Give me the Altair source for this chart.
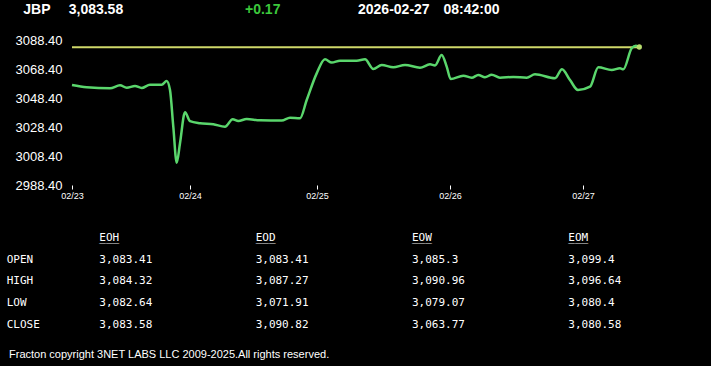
import altair as alt
import pandas as pd

# ---- header values ----
symbol = "JBP"
last_price = "3,083.58"
change = "+0.17"
quote_date = "2026-02-27"
quote_time = "08:42:00"
footer = "Fracton copyright 3NET LABS LLC 2009-2025.All rights reserved."

# ---- price series (bar index along the session axis, price) ----
bars = [0, 14.7, 38, 48, 54.7, 63, 69.7, 78, 89.7, 94.7, 98, 101.3, 104.7, 108, 113,
        118, 128, 141.3, 153, 160.7, 166.3, 174.7, 188, 209.7, 218, 228, 234.7, 244.7,
        253, 259.7, 268, 284.7, 293, 301.3, 309.7, 321.3, 333, 348, 358, 363, 369.7,
        374.7, 378.7, 391.3, 399.7, 406.3, 413, 419.7, 428, 441.3, 454.7, 463, 483,
        490, 498, 506, 518, 526.3, 539.7, 548, 551.3, 559.7, 564, 567.3]
prices = [3057.4, 3055.8, 3055.1, 3057.2, 3055.5, 3056.7, 3055.3, 3057.6, 3057.6,
          3060.1, 3053.9, 3028.6, 3003.8, 3017.2, 3038.5, 3032.5, 3031.0, 3030.3,
          3028.6, 3033.7, 3032.5, 3033.9, 3033.0, 3032.8, 3034.8, 3034.4, 3047.0,
          3065.4, 3075.1, 3072.8, 3074.1, 3074.1, 3075.1, 3068.4, 3071.2, 3069.6,
          3071.2, 3069.3, 3071.6, 3070.9, 3078.1, 3070.0, 3061.5, 3063.8, 3062.4,
          3064.3, 3062.7, 3064.5, 3062.4, 3062.9, 3062.4, 3064.7, 3062.0, 3068.2,
          3060.8, 3053.9, 3056.2, 3069.6, 3067.7, 3068.9, 3068.2, 3082.7, 3084.5,
          3083.58]
prev_close = 3083.41
session_start = 0
session_end = 568

tick_bars = [0, 118, 245, 378, 511]
tick_labels = ["02/23", "02/24", "02/25", "02/26", "02/27"]
y_ticks = [2988.4, 3008.4, 3028.4, 3048.4, 3068.4, 3088.4]
y_domain = [2988.4, 3088.4]

# ---- summary table ----
table_cols = ["EOH", "EOD", "EOW", "EOM"]
row_names = ["OPEN", "HIGH", "LOW", "CLOSE"]
open_vals = ["3,083.41", "3,083.41", "3,085.3", "3,099.4"]
high_vals = ["3,084.32", "3,087.27", "3,090.96", "3,096.64"]
low_vals = ["3,082.64", "3,071.91", "3,079.07", "3,080.4"]
close_vals = ["3,083.58", "3,090.82", "3,063.77", "3,080.58"]

# ---- build frames ----
series = pd.DataFrame({"bar": bars, "price": prices})
prev_df = pd.DataFrame({"start": [session_start], "end": [session_end], "prev": [prev_close]})
last_df = series.tail(1)

row_domain = ["hdr"] + row_names
cells = []
for i, c in enumerate(table_cols):
    cells.append({"col": c, "row": "hdr", "text": c})
    for r, vals in zip(row_names, [open_vals, high_vals, low_vals, close_vals]):
        cells.append({"col": c, "row": r, "text": vals[i]})
cells_df = pd.DataFrame(cells)
hdr_df = cells_df[cells_df["row"] == "hdr"].assign(text="___")
rows_df = pd.DataFrame({"row": row_names})
header_df = pd.DataFrame([{"symbol": symbol, "last": last_price, "change": change,
                           "date": quote_date, "time": quote_time, "footer": footer}])

WHITE = "#ffffff"
GREEN_LINE = "#5ad66c"

xs = alt.Scale(domain=[session_start, session_end], nice=False, zero=False)
ys = alt.Scale(domain=y_domain, nice=False, zero=False)

label_expr = ("[" + ",".join("'%s'" % l for l in tick_labels) + "][indexof(["
              + ",".join(str(b) for b in tick_bars) + "], datum.value)]")

x_axis = alt.Axis(values=tick_bars, labelExpr=label_expr, title=None, grid=False,
                  domain=False, ticks=True, tickSize=4, tickColor=WHITE, tickWidth=1,
                  labelColor=WHITE, labelFontSize=9, labelFont="Liberation Sans",
                  labelPadding=2, labelFlush=False, labelOverlap=False)
y_axis = alt.Axis(values=y_ticks, format=".2f", title=None, grid=False, domain=False,
                  ticks=False, labelColor=WHITE, labelFontSize=13,
                  labelFont="Liberation Sans", labelPadding=10, labelFlush=False,
                  labelOverlap=False)

prev_rule = alt.Chart(prev_df).mark_rule(color="#cfd86a", strokeWidth=2).encode(
    x=alt.X("start:Q", scale=xs, axis=x_axis),
    x2="end:Q",
    y=alt.Y("prev:Q", scale=ys, axis=y_axis),
)
line = alt.Chart(series).mark_line(color=GREEN_LINE, strokeWidth=2.5,
                                   interpolate="monotone").encode(
    x=alt.X("bar:Q", scale=xs, axis=x_axis),
    y=alt.Y("price:Q", scale=ys, axis=y_axis),
)
end_pt = alt.Chart(last_df).mark_point(filled=True, size=28, color="#b8dc6e",
                                       opacity=1).encode(
    x=alt.X("bar:Q", scale=xs, axis=x_axis),
    y=alt.Y("price:Q", scale=ys, axis=y_axis),
)
plot = alt.layer(prev_rule, line, end_pt)

tx = alt.Scale(type="point", domain=table_cols, range=[27.3, 496.3], padding=0)
ty = alt.Scale(type="point", domain=row_domain, range=[198.3, 284.6], padding=0)
mono = dict(font="DejaVu Sans Mono", fontSize=11, color=WHITE, baseline="middle",
            align="left")
table_vals = alt.Chart(cells_df).mark_text(**mono).encode(
    x=alt.X("col:N", scale=tx, axis=None),
    y=alt.Y("row:N", scale=ty, axis=None),
    text="text:N",
)
underline = alt.Chart(hdr_df).mark_text(**mono).encode(
    x=alt.X("col:N", scale=tx, axis=None),
    y=alt.Y("row:N", scale=ty, axis=None),
    text="text:N",
)
row_labels = alt.Chart(rows_df).mark_text(**mono).encode(
    x=alt.value(-65.3),
    y=alt.Y("row:N", scale=ty, axis=None),
    text="row:N",
)
table = alt.layer(table_vals, underline, row_labels)

hbase = dict(font="Liberation Sans", fontSize=14, fontWeight="bold",
             baseline="alphabetic", align="left")
header = alt.layer(
    alt.Chart(header_df).mark_text(color=WHITE, **hbase).encode(
        x=alt.value(-48.7), y=alt.value(-26.5), text="symbol:N"),
    alt.Chart(header_df).mark_text(color=WHITE, **hbase).encode(
        x=alt.value(-3.3), y=alt.value(-26.5), text="last:N"),
    alt.Chart(header_df).mark_text(color="#3cc83c", **hbase).encode(
        x=alt.value(173), y=alt.value(-26.5), text="change:N"),
    alt.Chart(header_df).mark_text(color=WHITE, **hbase).encode(
        x=alt.value(286), y=alt.value(-26.5), text="date:N"),
    alt.Chart(header_df).mark_text(color=WHITE, **hbase).encode(
        x=alt.value(371.5), y=alt.value(-26.5), text="time:N"),
    alt.Chart(header_df).mark_text(color=WHITE, font="Liberation Sans", fontSize=11,
                                   baseline="middle", align="left").encode(
        x=alt.value(-63), y=alt.value(315), text="footer:N"),
)

chart = alt.layer(plot, table, header).resolve_scale(
    x="independent", y="independent"
).properties(
    width=568, height=145,
    padding={"left": 72, "top": 40, "right": 71, "bottom": 181},
    autosize=alt.AutoSizeParams(type="none"),
).configure(background="#000000").configure_view(stroke=None)

chart.save("out.html", embed_options={"renderer": "svg", "actions": False})
